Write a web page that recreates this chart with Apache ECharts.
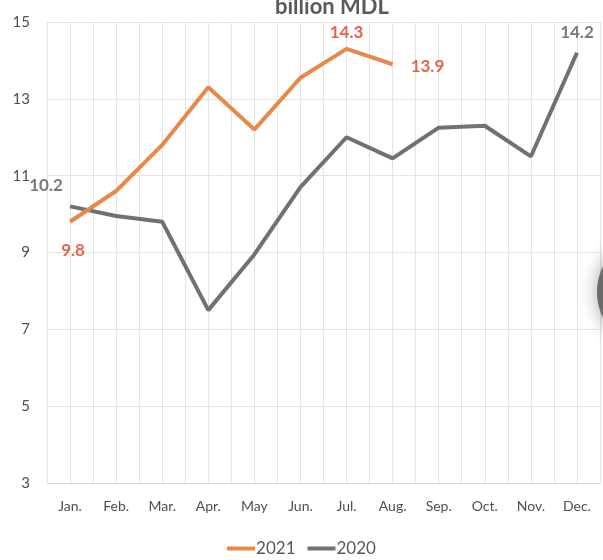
<!DOCTYPE html>
<html>
<head>
<meta charset="utf-8">
<script src="https://cdn.jsdelivr.net/npm/echarts@6/dist/echarts.min.js"></script>
<style>
  html, body { margin: 0; padding: 0; background: #fff; }
  #main { width: 603px; height: 560px; }
</style>
</head>
<body>
<div id="main"></div>
<script>
const months = ['Jan.', 'Feb.', 'Mar.', 'Apr.', 'May', 'Jun.', 'Jul.', 'Aug.', 'Sep.', 'Oct.', 'Nov.', 'Dec.'];
const values2021 = [9.8, 10.6, 11.8, 13.3, 12.2, 13.55, 14.3, 13.9];
const values2020 = [10.2, 9.95, 9.8, 7.5, 8.95, 10.7, 12.0, 11.45, 12.25, 12.3, 11.5, 14.2];
const yTicks = [3, 5, 7, 9, 11, 13, 15];

// half-month slots, only used to draw the extra vertical grid lines
const halfSlots = months.flatMap((m) => [m + 'a', m + 'b']);

const font = 'Lato, "Open Sans", sans-serif';
const orange = '#E8894A';
const orangeText = '#E2674A';
const grey = '#717171';

// labels only on a few points, like the original: [position, offset]
const label2021 = { 0: ['bottom', [3, 8]], 6: ['top', [0, 4]], 7: ['right', [2, 2]] };
const label2020 = { 0: ['top', [-24, 0]], 11: ['top', [0, 0]] };

const withLabels = (values, positions, color) =>
  values.map((v, i) => {
    if (!positions[i]) return v;
    const [position, offset] = positions[i];
    return {
      value: v,
      label: {
        show: true,
        position,
        offset,
        distance: position === 'right' ? 16 : 12,
        color,
        fontFamily: font,
        fontWeight: 'bold',
        fontSize: 17,
        formatter: (p) => p.value.toFixed(1),
      },
    };
  });

const chart = echarts.init(document.getElementById('main'));
chart.setOption({
  animation: false,
  title: {
    text: 'billion MDL',
    left: 327,
    top: -9,
    textAlign: 'center',
    textStyle: { fontFamily: font, fontWeight: 'bold', fontSize: 22, color: '#595959' },
  },
  grid: { left: 47, right: 3, top: 22, bottom: 77 },
  legend: {
    bottom: -2,
    left: 'center',
    itemWidth: 28,
    itemHeight: 4,
    itemGap: 12,
    icon: 'rect',
    textStyle: { fontFamily: font, fontSize: 17, color: '#595959', padding: [0, 0, 0, -4] },
    data: ['2021', '2020'],
  },
  xAxis: [
    {
      type: 'category',
      data: months,
      boundaryGap: true,
      axisLine: { lineStyle: { color: '#d9d9d9' } },
      axisTick: { show: false },
      axisLabel: { fontFamily: font, fontSize: 14, color: '#4f4f4f', margin: 16, interval: 0 },
      splitLine: { show: false },
    },
    {
      type: 'category',
      data: halfSlots,
      position: 'bottom',
      boundaryGap: true,
      axisLine: { show: false },
      axisTick: { show: false },
      axisLabel: { show: false },
      splitLine: { show: true, interval: 0, lineStyle: { color: '#e3e3e3', width: 1 } },
    },
  ],
  yAxis: {
    type: 'value',
    min: yTicks[0],
    max: yTicks[yTicks.length - 1],
    interval: 2,
    axisLine: { show: false },
    axisTick: { show: false },
    axisLabel: { fontFamily: font, fontSize: 15, color: '#4f4f4f', margin: 17 },
    splitLine: { lineStyle: { color: '#e3e3e3' } },
  },
  series: [
    {
      name: '2021',
      type: 'line',
      data: withLabels(values2021, label2021, orangeText),
      symbol: 'circle',
      symbolSize: 0,
      lineStyle: { color: orange, width: 4 },
      itemStyle: { color: orange },
      z: 3,
    },
    {
      name: '2020',
      type: 'line',
      data: withLabels(values2020, label2020, '#7a7a7a'),
      symbol: 'circle',
      symbolSize: 0,
      lineStyle: { color: grey, width: 4 },
      itemStyle: { color: grey },
      z: 2,
    },
  ],
  graphic: [
    {
      type: 'circle',
      shape: { cx: 655, cy: 292, r: 58 },
      style: {
        fill: '#6a6a6a',
        shadowBlur: 18,
        shadowColor: 'rgba(0,0,0,0.35)',
      },
      z: 10,
    },
  ],
});
</script>
</body>
</html>
